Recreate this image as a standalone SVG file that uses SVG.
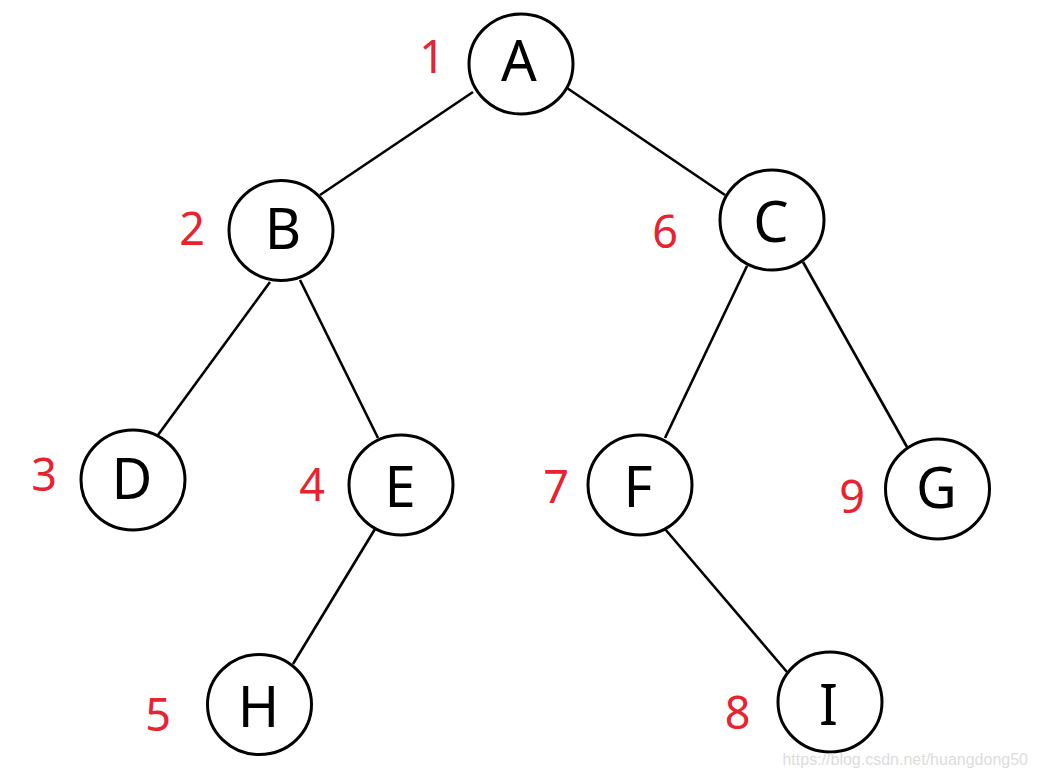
<svg xmlns="http://www.w3.org/2000/svg" width="1038" height="780" viewBox="0 0 1038 780">
<style>
.edge{stroke:#000;stroke-width:2.6;fill:none}
.node ellipse{fill:#fff;stroke:#000;stroke-width:3}
.lbl{font-family:"Noto Sans","Open Sans",sans-serif;font-size:56px;fill:#000;text-anchor:middle}
.num{font-family:"Noto Sans","Open Sans",sans-serif;font-size:45px;fill:#E8232F;text-anchor:middle}
.wm{font-family:"Liberation Sans",Arial,sans-serif;font-size:16px;fill:#dcdcdc;text-anchor:end}
</style>
<rect width="1038" height="780" fill="#fff"/>
<g id="connectors">
<line class="edge" x1="473" y1="92" x2="320" y2="195"/>
<line class="edge" x1="567" y1="88" x2="725" y2="195"/>
<line class="edge" x1="270" y1="282" x2="158" y2="435"/>
<line class="edge" x1="300" y1="280" x2="378" y2="438"/>
<line class="edge" x1="747" y1="266" x2="665" y2="438"/>
<line class="edge" x1="803" y1="262" x2="907" y2="447"/>
<line class="edge" x1="375" y1="529" x2="293" y2="664"/>
<line class="edge" x1="665" y1="529" x2="787" y2="672"/>
</g>
<g id="node-A" class="node"><ellipse cx="521" cy="64" rx="52" ry="50"/><text class="lbl" x="519" y="81">A</text><text class="num" x="432" y="73">1</text></g>
<g id="node-B" class="node"><ellipse cx="281" cy="230.5" rx="52" ry="50"/><text class="lbl" x="283" y="249">B</text><text class="num" x="192" y="245">2</text></g>
<g id="node-C" class="node"><ellipse cx="772" cy="220" rx="52" ry="50"/><text class="lbl" x="771" y="242">C</text><text class="num" x="665" y="248">6</text></g>
<g id="node-D" class="node"><ellipse cx="133" cy="480" rx="52" ry="50"/><text class="lbl" x="132" y="499">D</text><text class="num" x="44" y="491">3</text></g>
<g id="node-E" class="node"><ellipse cx="401" cy="485" rx="52" ry="50"/><text class="lbl" x="400" y="507">E</text><text class="num" x="312" y="501">4</text></g>
<g id="node-F" class="node"><ellipse cx="640" cy="485" rx="52" ry="50"/><text class="lbl" x="638" y="507">F</text><text class="num" x="556" y="503">7</text></g>
<g id="node-G" class="node"><ellipse cx="937.5" cy="489" rx="52" ry="50"/><text class="lbl" x="936.5" y="508">G</text><text class="num" x="852" y="512.5">9</text></g>
<g id="node-H" class="node"><ellipse cx="259.5" cy="704.5" rx="52" ry="50"/><text class="lbl" x="258.5" y="727">H</text><text class="num" x="158" y="730.5">5</text></g>
<g id="node-I" class="node"><ellipse cx="830" cy="702" rx="52" ry="50"/><text class="lbl" x="828.5" y="725">I</text><text class="num" x="737.5" y="729">8</text></g>
<text class="wm" x="1028" y="765">https://blog.csdn.net/huangdong50</text>
</svg>
